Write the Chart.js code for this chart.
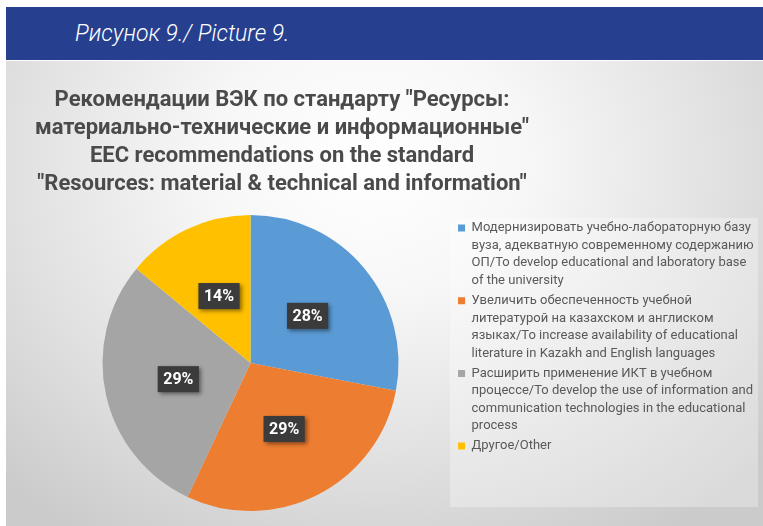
<!DOCTYPE html>
<html lang="ru">
<head>
<meta charset="utf-8">
<title>Рисунок 9</title>
<script src="https://cdn.jsdelivr.net/npm/chart.js@4.4.1/dist/chart.umd.min.js"></script>
<style>
    html, body { margin: 0; padding: 0; background: #fff; width: 763px; height: 526px; overflow: hidden; }
    .cabecera {
        position: absolute; left: 6px; top: 7px; width: 757px; height: 53px;
        background: #26408f; color: #fff;
        font: italic 300 23px Roboto, "Open Sans", sans-serif;
    }
    .cabecera span { position: absolute; left: 69px; top: 13px; }
    .panel {
        position: absolute; left: 6px; top: 61px; width: 757px; height: 465px;
        background: radial-gradient(ellipse 70% 95% at 48% 22%, #ffffff 0%, #f7f7f7 30%, #e2e2e2 65%, #cbcbcb 100%);
    }
    .fondo-leyenda {
        position: absolute; left: 450px; top: 218px; width: 308px; height: 289px;
        background: rgba(255, 255, 255, 0.3);
    }
    #grafico { position: absolute; left: 5px; top: 61px; }
</style>
</head>
<body>
<div class="cabecera"><span>Рисунок 9./ Picture 9.</span></div>
<div class="panel"></div>
<div class="fondo-leyenda"></div>
<canvas id="grafico" width="758" height="465"></canvas>

<script>
// --- Datos ---
const tituloLineas = [
    'Рекомендации ВЭК по стандарту "Ресурсы:',
    'материально-технические и информационные"',
    'EEC recommendations on the standard',
    '"Resources: material & technical and information"'
];

const categorias = [
    ['Модернизировать учебно-лабораторную базу',
     'вуза, адекватную современному содержанию',
     'ОП/To develop educational and laboratory base',
     'of the university'],
    ['Увеличить обеспеченность учебной',
     'литературой на казахском и англиском',
     'языках/To increase availability of educational',
     'literature in Kazakh and English languages'],
    ['Расширить применение ИКТ в учебном',
     'процессе/To develop the use of information and',
     'communication technologies in the educational',
     'process'],
    ['Другое/Other']
];

const porcentajes = [28, 29, 29, 14];

const colores = ['#5b9bd5', '#ed7d31', '#a5a5a5', '#ffc000'];

// --- Plugins ---
const pluginTitulo = {
    id: 'tituloBloque',
    afterDraw(chart) {
        const ctx = chart.ctx;
        ctx.save();
        ctx.font = 'bold 22px Roboto, "Noto Sans", sans-serif';
        ctx.fillStyle = '#4a4a4a';
        ctx.textAlign = 'center';
        ctx.textBaseline = 'middle';
        tituloLineas.forEach((linea, i) => ctx.fillText(linea, 277, 39 + i * 28.3));
        ctx.restore();
    }
};

const pluginEtiquetas = {
    id: 'etiquetasPorcentaje',
    afterDatasetsDraw(chart) {
        const ctx = chart.ctx;
        const meta = chart.getDatasetMeta(0);
        ctx.save();
        ctx.font = 'bold 16px Roboto, "Noto Sans", sans-serif';
        ctx.textAlign = 'center';
        ctx.textBaseline = 'middle';
        meta.data.forEach((arco, i) => {
            const { x, y } = arco.getCenterPoint();
            const texto = porcentajes[i] + '%';
            const ancho = ctx.measureText(texto).width + 11;
            const alto = 26;
            ctx.shadowColor = 'rgba(0, 0, 0, 0.45)';
            ctx.shadowBlur = 4;
            ctx.shadowOffsetX = 2;
            ctx.shadowOffsetY = 2;
            ctx.fillStyle = '#3b3b3b';
            ctx.fillRect(x - ancho / 2, y - alto / 2, ancho, alto);
            ctx.shadowColor = 'transparent';
            ctx.fillStyle = '#ffffff';
            ctx.fillText(texto, x, y + 1);
        });
        ctx.restore();
    }
};

// --- Grafico ---
new Chart(document.getElementById('grafico'), {
    type: 'pie',
    data: {
        labels: categorias,
        datasets: [{
            data: porcentajes,
            backgroundColor: colores,
            borderWidth: 0
        }]
    },
    options: {
        responsive: false,
        animation: false,
        events: [],
        radius: 148,
        layout: { padding: { left: 40.5, right: 0, top: 158, bottom: 19 } },
        plugins: {
            tooltip: { enabled: false },
            title: { display: false },
            legend: {
                position: 'right',
                align: 'start',
                labels: {
                    boxWidth: 7,
                    boxHeight: 7,
                    padding: 2.5,
                    color: '#595959',
                    font: { family: 'Roboto', size: 13, lineHeight: 1.35 }
                }
            }
        }
    },
    plugins: [pluginTitulo, pluginEtiquetas]
});
</script>
</body>
</html>
